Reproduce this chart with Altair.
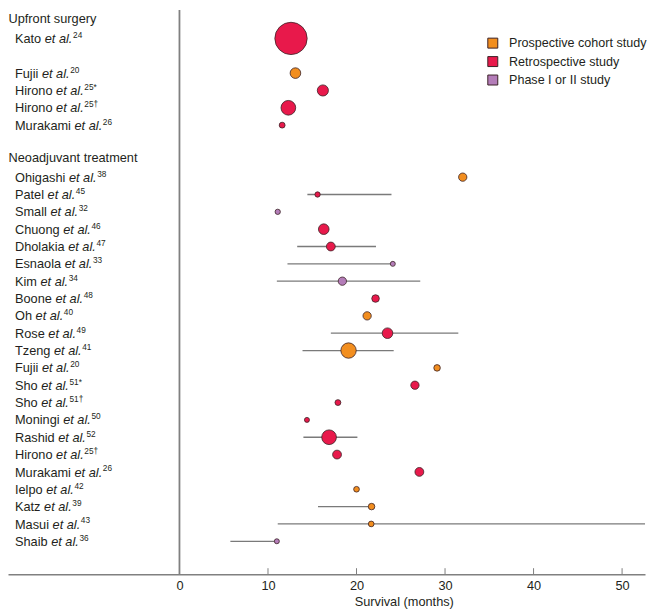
import altair as alt
import pandas as pd

# ---------------- data ----------------
types = ["Prospective cohort study", "Retrospective study", "Phase I or II study"]
colors = ["#F28E1F", "#E8194B", "#B47DB9"]

P, R, F = types
up_names = ["Kato", "Fujii", "Hirono", "Hirono", "Murakami"]
up_refs = ["24", "20", "25*", "25\u2020", "26"]
up_types = [R, P, R, R, R]
up_median = [12.6, 13.1, 16.2, 12.3, 11.6]
up_n = [1005, 108, 119, 207, 33]
up_lo = [None, None, None, None, None]
up_hi = [None, None, None, None, None]

neo_names = ["Ohigashi", "Patel", "Small", "Chuong", "Dholakia", "Esnaola", "Kim",
             "Boone", "Oh", "Rose", "Tzeng", "Fujii", "Sho", "Sho", "Moningi",
             "Rashid", "Hirono", "Murakami", "Ielpo", "Katz", "Masui", "Shaib"]
neo_refs = ["38", "45", "32", "46", "47", "33", "34", "48", "40", "49", "41", "20",
            "51*", "51\u2020", "50", "52", "25\u2020", "26", "42", "39", "43", "36"]
neo_types = [P, R, F, R, R, F, F, R, P, R, P, P, R, R, R, R, R, R, P, P, P, F]
neo_median = [32.0, 15.6, 11.1, 16.3, 17.1, 24.1, 18.4, 22.15, 21.2, 23.5, 19.1, 29.1,
              26.6, 17.9, 14.4, 16.9, 17.8, 27.1, 20.0, 21.7, 21.66, 11.0]
neo_n = [66, 27, 27, 108, 75, 24, 66, 55, 66, 108, 227, 41,
         66, 33, 24, 207, 75, 75, 31, 41, 31, 24]
neo_lo = [None, 14.45, None, None, 13.3, 12.2, 11.0, None, None, 17.1, 13.9, None,
          None, None, None, 14.0, None, None, None, 15.65, 11.1, 5.75]
neo_hi = [None, 23.95, None, None, 22.2, 24.1, 27.2, None, None, 31.5, 24.2, None,
          None, None, None, 20.1, None, None, None, 21.7, 60.0, 11.0]

headers = ["Upfront surgery", "Neoadjuvant treatment"]
x_ticks = [0, 10, 20, 30, 40, 50]
x_title = "Survival (months)"

# row order (top to bottom), with blank spacer rows
up_keys = [f"u{i}" for i in range(len(up_names))]
neo_keys = [f"n{i}" for i in range(len(neo_names))]
row_order = ["h1", up_keys[0], "g1"] + up_keys[1:] + ["g2", "h2"] + neo_keys

# ---------------- layout / style ----------------
W, H = 639, 566
XMIN, XMAX = -19.37, 52.59
FONT = "Liberation Sans"
FS = 12.8
SUP = 8.3
TXT = "#231f20"
GRAY = "#808080"

# Arial / Liberation Sans advance widths (per 1000 em)
AW = {
    'A': 667, 'B': 667, 'C': 722, 'D': 722, 'E': 667, 'F': 611, 'G': 778, 'H': 722,
    'I': 278, 'J': 500, 'K': 667, 'L': 556, 'M': 833, 'N': 722, 'O': 778, 'P': 667,
    'Q': 778, 'R': 722, 'S': 667, 'T': 611, 'U': 722, 'V': 667, 'W': 944, 'X': 667,
    'Y': 667, 'Z': 611,
    'a': 556, 'b': 556, 'c': 500, 'd': 556, 'e': 556, 'f': 278, 'g': 556, 'h': 556,
    'i': 222, 'j': 222, 'k': 500, 'l': 222, 'm': 833, 'n': 556, 'o': 556, 'p': 556,
    'q': 556, 'r': 333, 's': 500, 't': 278, 'u': 556, 'v': 500, 'w': 722, 'x': 500,
    'y': 500, 'z': 500, ' ': 278, '.': 278,
}


def tw(s, fs):
    return sum(AW.get(c, 556) for c in s) * fs / 1000.0


def px2x(px):
    return XMIN + px * (XMAX - XMIN) / W


NAME_PX = 7
HDR_PX = 0.5

# ---------------- tables ----------------
studies = pd.DataFrame({
    "key": up_keys + neo_keys,
    "name": up_names + neo_names,
    "ref": up_refs + neo_refs,
    "type": up_types + neo_types,
    "median": up_median + neo_median,
    "n": up_n + neo_n,
    "lo": up_lo + neo_lo,
    "hi": up_hi + neo_hi,
})

etal = "et al."
studies["xn"] = px2x(NAME_PX)
studies["xe"] = [px2x(NAME_PX + tw(nm + " ", FS)) for nm in studies["name"]]
studies["xs"] = [px2x(NAME_PX + tw(nm + " " + etal, FS) + 0.6) for nm in studies["name"]]
studies["etal"] = etal

ci = studies.dropna(subset=["lo"])
hdr = pd.DataFrame({"key": ["h1", "h2"], "text": headers, "x": [px2x(HDR_PX)] * 2})
ticks_df = pd.DataFrame({"t": x_ticks[1:]})

xs = alt.Scale(domain=[XMIN, XMAX], nice=False, zero=False)
yenc = alt.Y("key:N",
             scale=alt.Scale(type="point", domain=row_order, range=[11.2, 533], padding=0),
             axis=None)


def X(field):
    return alt.X(field, scale=xs, title=x_title)


vline = alt.Chart(pd.DataFrame({"v": [0]})).mark_rule(color=GRAY, strokeWidth=1.8).encode(
    x=X("v:Q")
)

ci_rules = alt.Chart(ci).mark_rule(color="#7a7a7a", strokeWidth=1.3, clip=True).encode(
    x=X("lo:Q"),
    x2=alt.X2("hi:Q", title=x_title),
    y=yenc,
)

points = alt.Chart(studies).mark_circle(opacity=1, stroke="#3b2226", strokeWidth=0.8).encode(
    x=alt.X("median:Q", scale=xs,
            axis=alt.Axis(values=x_ticks, grid=False, ticks=False, tickSize=0,
                          domainColor=GRAY, domainWidth=1.5,
                          labelFont=FONT, labelFontSize=FS, labelColor=TXT,
                          labelPadding=5, labelFlush=False, format="d",
                          titleFont=FONT, titleFontSize=FS, titleFontWeight="normal",
                          titleColor=TXT, titleX=397, titleAlign="center",
                          titlePadding=4),
            title=x_title),
    y=yenc,
    color=alt.Color("type:N", scale=alt.Scale(domain=types, range=colors),
                    legend=alt.Legend(title=None, orient="none", legendX=480, legendY=27,
                                      symbolType="square", symbolSize=100,
                                      symbolStrokeColor="#3b2226", symbolStrokeWidth=1,
                                      symbolOpacity=1,
                                      labelFont=FONT, labelFontSize=12.6, labelColor=TXT,
                                      labelOffset=10, rowPadding=3.5, padding=0)),
    size=alt.Size("n:Q", scale=alt.Scale(domain=[0, 1000], range=[0, 1047]), legend=None),
)

tick_marks = alt.Chart(ticks_df).mark_rule(color=GRAY, strokeWidth=1).encode(
    x=X("t:Q"),
    y=alt.value(H - 6),
    y2=alt.value(H),
)

hdr_text = alt.Chart(hdr).mark_text(align="left", baseline="alphabetic", dy=2,
                                    font=FONT, fontSize=FS, color=TXT).encode(
    x=X("x:Q"), y=yenc, text="text:N")

name_text = alt.Chart(studies).mark_text(align="left", baseline="alphabetic", dy=4.6,
                                         font=FONT, fontSize=FS, color=TXT).encode(
    x=X("xn:Q"), y=yenc, text="name:N")

etal_text = alt.Chart(studies).mark_text(align="left", baseline="alphabetic", dy=4.6,
                                         font=FONT, fontSize=FS, fontStyle="italic",
                                         color=TXT).encode(
    x=X("xe:Q"), y=yenc, text="etal:N")

sup_text = alt.Chart(studies).mark_text(align="left", baseline="alphabetic", dy=-0.5,
                                        font=FONT, fontSize=SUP, color=TXT).encode(
    x=X("xs:Q"), y=yenc, text="ref:N")

chart = alt.layer(
    vline, ci_rules, points, tick_marks, hdr_text, name_text, etal_text, sup_text
).properties(
    width=W, height=H, padding=0, background="white"
).configure_view(stroke=None).configure_axis(grid=False)

chart.save("out.html", embed_options={"renderer": "svg", "actions": False})
